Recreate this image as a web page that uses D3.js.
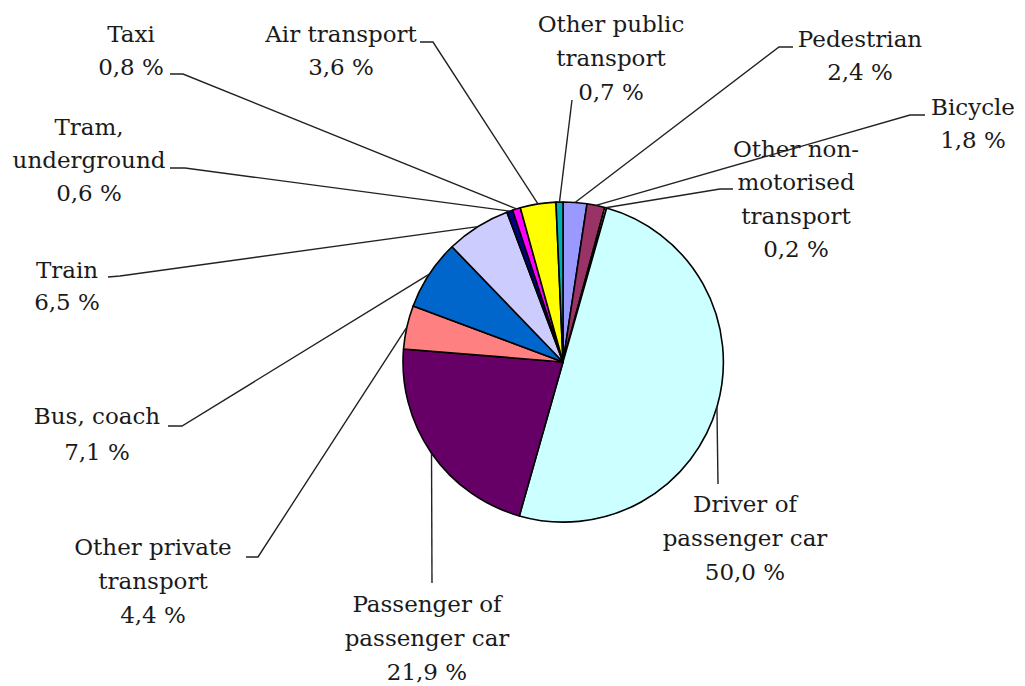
<!DOCTYPE html>
<html>
<head>
<meta charset="utf-8">
<script src="https://cdn.jsdelivr.net/npm/d3@7"></script>
<style>
  body { margin: 0; background: #fff; }
</style>
</head>
<body>
<div id="chart"></div>
<script>
// modal split data (clockwise from 12 o'clock)
var categories = ["Pedestrian", "Bicycle", "Other non-motorised transport", "Driver of passenger car",
  "Passenger of passenger car", "Other private transport", "Bus, coach", "Train",
  "Tram, underground", "Taxi", "Air transport", "Other public transport"];
var values = [2.4, 1.8, 0.2, 50.0, 21.9, 4.4, 7.1, 6.5, 0.6, 0.8, 3.6, 0.7];
var labelLines = [["Pedestrian"], ["Bicycle"], ["Other non-", "motorised", "transport"], ["Driver of", "passenger car"],
  ["Passenger of", "passenger car"], ["Other private", "transport"], ["Bus, coach"], ["Train"],
  ["Tram,", "underground"], ["Taxi"], ["Air transport"], ["Other public", "transport"]];
var colors = ["#9999ff", "#993366", "#ffffcc", "#ccffff", "#660066", "#ff8080",
  "#0066cc", "#ccccff", "#000080", "#ff00ff", "#ffff00", "#00b0b0"];

// label placement: text centre, first baseline, line step, leader points from text side
var layout = [
  {x: 860, y: 47, dy: 33, pts: [[793, 47], [779, 47]]},
  {x: 973, y: 115, dy: 33, pts: [[925, 115], [910, 115]]},
  {x: 796, y: 157, dy: 33.3, pts: [[733, 189], [720, 189]]},
  {x: 745, y: 512, dy: 34, pts: [[718, 484]]},
  {x: 427, y: 612, dy: 34, pts: [[432, 583]]},
  {x: 153, y: 555, dy: 34, pts: [[246, 557], [258, 557]]},
  {x: 97, y: 424, dy: 36, pts: [[168, 426], [182, 426]]},
  {x: 67, y: 278, dy: 32, pts: [[108, 277], [120, 276]]},
  {x: 89, y: 135, dy: 33, pts: [[170, 168], [185, 168]]},
  {x: 131, y: 42, dy: 33, pts: [[170, 74], [183, 74]]},
  {x: 341, y: 42, dy: 33, pts: [[420, 42], [433, 42]]},
  {x: 611, y: 32, dy: 34, pts: [[572, 100]]}
];

var width = 1025, height = 686;
var cx = 563, cy = 362, radius = 160;
var serif = "'DejaVu Serif', 'Liberation Serif', serif";

var data = categories.map(function(c, i) {
  return {name: c, value: values[i], lines: labelLines[i], pos: layout[i]};
});

var fmt = d3.format(".1f");
function pct(v) { return fmt(v).replace(".", ",") + " %"; }

var color = d3.scaleOrdinal().domain(categories).range(colors);

var svg = d3.select("#chart").append("svg")
    .attr("width", width)
    .attr("height", height)
    .style("background", "#fff");

var pie = d3.pie().sort(null).value(function(d) { return d.value; })
    .startAngle(0).endAngle(2 * Math.PI);
var arcs = pie(data);

var arc = d3.arc().innerRadius(0).outerRadius(radius);
var edge = d3.arc().innerRadius(radius).outerRadius(radius);

var g = svg.append("g").attr("transform", "translate(" + cx + "," + cy + ")");

g.selectAll("path.slice")
  .data(arcs)
  .enter().append("path")
    .attr("class", "slice")
    .attr("d", arc)
    .attr("fill", function(d) { return color(d.data.name); })
    .attr("stroke", "#000")
    .attr("stroke-width", 1.6)
    .attr("stroke-linejoin", "round");

// labels
var labels = svg.selectAll("text.lbl")
  .data(arcs)
  .enter().append("text")
    .attr("class", "lbl")
    .attr("text-anchor", "middle")
    .style("font-family", serif)
    .style("font-size", "23px")
    .attr("fill", "#1a1a1a");

labels.each(function(d) {
  var t = d3.select(this);
  var lines = d.data.lines.concat([pct(d.data.value)]);
  lines.forEach(function(s, k) {
    t.append("tspan")
      .attr("x", d.data.pos.x)
      .attr("y", d.data.pos.y + k * d.data.pos.dy)
      .text(s);
  });
});

// leader lines, from label to the middle of the slice's arc
var line = d3.line();
svg.selectAll("path.leader")
  .data(arcs)
  .enter().append("path")
    .attr("class", "leader")
    .attr("fill", "none")
    .attr("stroke", "#222")
    .attr("stroke-width", 1.4)
    .attr("d", function(d) {
      var c = edge.centroid(d);
      var pts = d.data.pos.pts.concat([[cx + c[0], cy + c[1]]]);
      return line(pts);
    });
</script>
</body>
</html>
